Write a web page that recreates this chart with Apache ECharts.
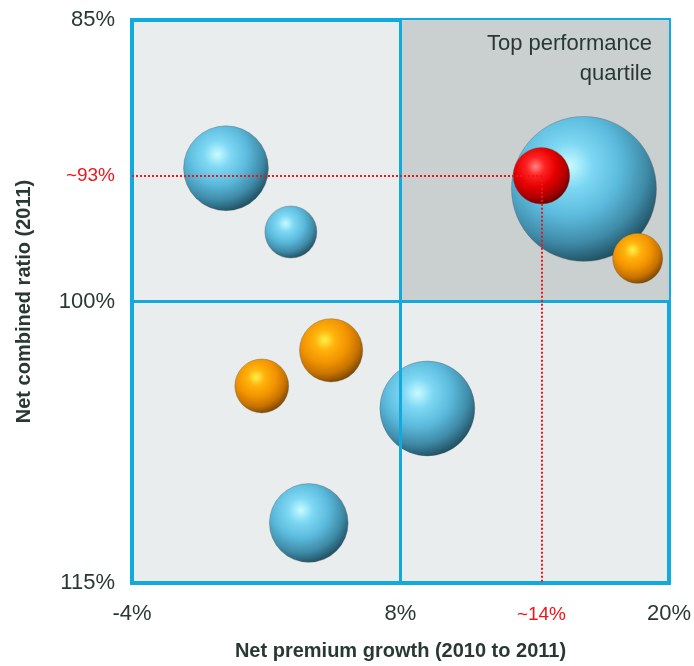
<!DOCTYPE html>
<html>
<head>
<meta charset="utf-8">
<script src="https://cdn.jsdelivr.net/npm/echarts@6/dist/echarts.min.js"></script>
<style>
  html, body { margin: 0; padding: 0; background: #fff; }
  #chart { width: 694px; height: 666px; }
</style>
</head>
<body>
<div id="chart"></div>
<script>
// axis ticks that carry a label
const xTicks = [-4, 8, 20]
const yTicks = [85, 100, 115]

// blue bubbles (growth %, combined ratio %, relative volume)
const blueX = [0.2, 3.1, 16.2, 9.2, 3.9]
const blueY = [92.9, 96.3, 94.0, 105.7, 111.8]
const blueVol = [72, 27, 210, 90, 62]

// orange bubbles
const orangeX = [18.6, 1.8, 4.9]
const orangeY = [97.7, 104.5, 102.6]
const orangeVol = [25, 29, 40]

// highlighted company
const redX = [14.3]
const redY = [93.3]
const redVol = [32]

const textColor = '#2a3833'
const frameColor = '#12aadd'
const markRed = '#f0141c'
const font = 'Liberation Sans'

const toPoints = (xs, ys, vs) => xs.map((x, i) => [x, ys[i], vs[i]])

// sphere-ish shading
const sphere = stops => ({
  type: 'radial', x: 0.4, y: 0.34, r: 0.78,
  colorStops: stops.map((c, i) => ({ offset: [0, 0.2, 0.45, 0.68, 0.87, 1][i], color: c }))
})
const blueFill = sphere(['#c8fbff', '#7ed8f4', '#5bbadc', '#3f8ba8', '#1f5062', '#0e2c36'])
const orangeFill = sphere(['#fff14a', '#ffb30c', '#f39400', '#c87300', '#7a4600', '#452800'])
const redFill = sphere(['#ff8484', '#ff2424', '#e60000', '#b00000', '#6a0000', '#3e0000'])

const bubbleSeries = (name, data, fill, z) => ({
  name,
  type: 'scatter',
  z,
  data,
  symbolSize: v => Math.sqrt(v[2]) * 10,
  itemStyle: { color: fill, borderColor: 'rgba(90,90,90,0.35)', borderWidth: 1, opacity: 1 },
  emphasis: { disabled: true }
})

const dotted = { color: markRed, width: 2, type: [2, 2] }

const chart = echarts.init(document.getElementById('chart'))
chart.setOption({
  animation: false,
  grid: {
    left: 132, right: 25, top: 20, bottom: 83,
    show: true,
    backgroundColor: '#e9eded',
    borderColor: frameColor,
    borderWidth: 4
  },
  xAxis: {
    type: 'value',
    min: -4, max: 20, interval: 4,
    name: 'Net premium growth (2010 to 2011)',
    nameLocation: 'middle',
    nameGap: 58,
    nameTextStyle: { color: textColor, fontSize: 20, fontWeight: 'bold', fontFamily: font },
    axisLine: { show: false },
    axisTick: { show: false },
    splitLine: { show: false },
    axisLabel: {
      margin: 20,
      color: textColor, fontSize: 22, fontFamily: font,
      showMinLabel: true, showMaxLabel: true,
      formatter: v => (xTicks.includes(v) ? v + '%' : '')
    }
  },
  yAxis: {
    type: 'value',
    inverse: true,
    min: 85, max: 115, interval: 5,
    name: 'Net combined ratio (2011)',
    nameLocation: 'middle',
    nameRotate: 90,
    nameGap: 98,
    nameTextStyle: { color: textColor, fontSize: 20, fontWeight: 'bold', fontFamily: font },
    axisLine: { show: false },
    axisTick: { show: false },
    splitLine: { show: false },
    axisLabel: {
      margin: 17,
      color: textColor, fontSize: 22, fontFamily: font,
      showMinLabel: true, showMaxLabel: true,
      formatter: v => (yTicks.includes(v) ? v + '%' : '')
    }
  },
  series: [
    {
      // top-right quadrant shading
      type: 'scatter', z: 1, data: [], silent: true,
      markArea: {
        silent: true,
        itemStyle: { color: '#c9d0cf' },
        label: {
          show: true,
          position: 'insideTopRight',
          distance: 0,
          padding: [9, 17, 0, 0],
          formatter: 'Top performance\nquartile',
          align: 'right',
          color: textColor, fontSize: 22, lineHeight: 30, fontFamily: font
        },
        data: [[{ coord: [8, 85] }, { coord: [20, 100] }]]
      }
    },
    bubbleSeries('blue', toPoints(blueX, blueY, blueVol), blueFill, 2),
    bubbleSeries('orange', toPoints(orangeX, orangeY, orangeVol), orangeFill, 2),
    {
      // quadrant dividers + reference lines for the highlighted company
      type: 'scatter', z: 3, data: [], silent: true,
      markLine: {
        silent: true,
        symbol: 'none',
        animation: false,
        data: [
          { xAxis: 8, lineStyle: { color: frameColor, width: 3, type: 'solid' }, label: { show: false } },
          { yAxis: 100, lineStyle: { color: frameColor, width: 3, type: 'solid' }, label: { show: false } },
          [
            { coord: [-4, redY[0]], lineStyle: dotted,
              label: { show: true, position: 'start', distance: 17, formatter: '~93%', color: markRed, fontSize: 19, fontFamily: font } },
            { coord: [redX[0], redY[0]] }
          ],
          [
            { coord: [redX[0], redY[0]], lineStyle: dotted,
              label: { show: true, position: 'end', distance: 22, formatter: '~14%', color: markRed, fontSize: 19, fontFamily: font } },
            { coord: [redX[0], 115] }
          ]
        ]
      }
    },
    bubbleSeries('red', toPoints(redX, redY, redVol), redFill, 4)
  ]
})
</script>
</body>
</html>
